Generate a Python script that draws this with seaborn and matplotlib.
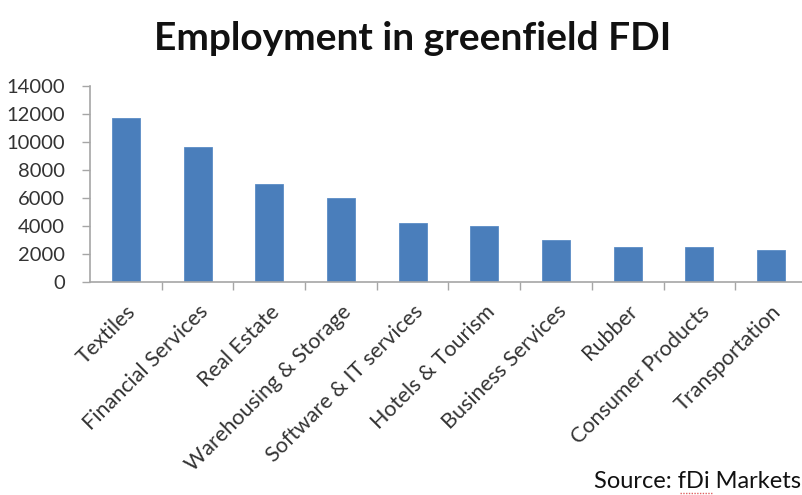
import matplotlib
matplotlib.use("Agg")
import matplotlib.pyplot as plt
import seaborn as sns
import pandas as pd

sectors = [
    "Textiles", "Financial Services", "Real Estate", "Warehousing & Storage",
    "Software & IT services", "Hotels & Tourism", "Business Services",
    "Rubber", "Consumer Products", "Transportation",
]
jobs = [11750, 9650, 7000, 6000, 4250, 4020, 2970, 2500, 2500, 2260]
y_ticks = [0, 2000, 4000, 6000, 8000, 10000, 12000, 14000]

df = pd.DataFrame({"sector": sectors, "jobs": jobs})

sns.set_theme(style="white")
plt.rcParams["font.family"] = ["Lato", "DejaVu Sans"]

W, H = 803, 495
fig = plt.figure(figsize=(W / 100, H / 100), dpi=100)
ax = fig.add_axes([90 / W, 213 / H, 717 / W, 196 / H])

sns.barplot(data=df, x="sector", y="jobs", color="#4A7EBB", width=0.39,
            saturation=1, edgecolor="#5B8CC6", linewidth=0.6, ax=ax)

ax.set_xlim(-0.5, len(sectors) - 0.5)
ax.set_ylim(0, 14000)
ax.set_yticks(y_ticks)
ax.set_yticklabels([str(v) for v in y_ticks], fontsize=14.5, color="#333333")
ax.set_xlabel("")
ax.set_ylabel("")

# category labels at centres, tick marks on category boundaries
ax.set_xticks(range(len(sectors)))
ax.set_xticklabels(sectors, rotation=45, ha="right", rotation_mode="anchor",
                   fontsize=15.5, color="#333333")
ax.tick_params(axis="x", length=0, pad=14)
ax.set_xticks([i + 0.5 for i in range(len(sectors))], minor=True)
ax.tick_params(axis="x", which="minor", direction="out", length=6,
               width=1, color="#A6A6A6", bottom=True)
ax.tick_params(axis="y", direction="out", length=6, width=1,
               color="#A6A6A6", left=True, pad=12)

for side in ("top", "right"):
    ax.spines[side].set_visible(False)
for side in ("left", "bottom"):
    ax.spines[side].set_color("#A6A6A6")
    ax.spines[side].set_linewidth(1.2)
ax.grid(False)

fig.text(413 / W, 1 - 38 / H, "Employment in greenfield FDI", ha="center",
         va="center", fontsize=28, fontweight="bold", color="#111111")
fig.text(801 / W, 1 - 482 / H, "Source: fDi Markets", ha="right",
         va="center", fontsize=17, color="#111111")
# spell-check squiggle under the agency name
fig.add_artist(plt.Line2D([680 / W, 712 / W], [1 - 493 / H, 1 - 493 / H],
                          transform=fig.transFigure, color="#E06060",
                          linewidth=1, linestyle=(0, (1, 1))))

fig.savefig("out.png", dpi=100)
